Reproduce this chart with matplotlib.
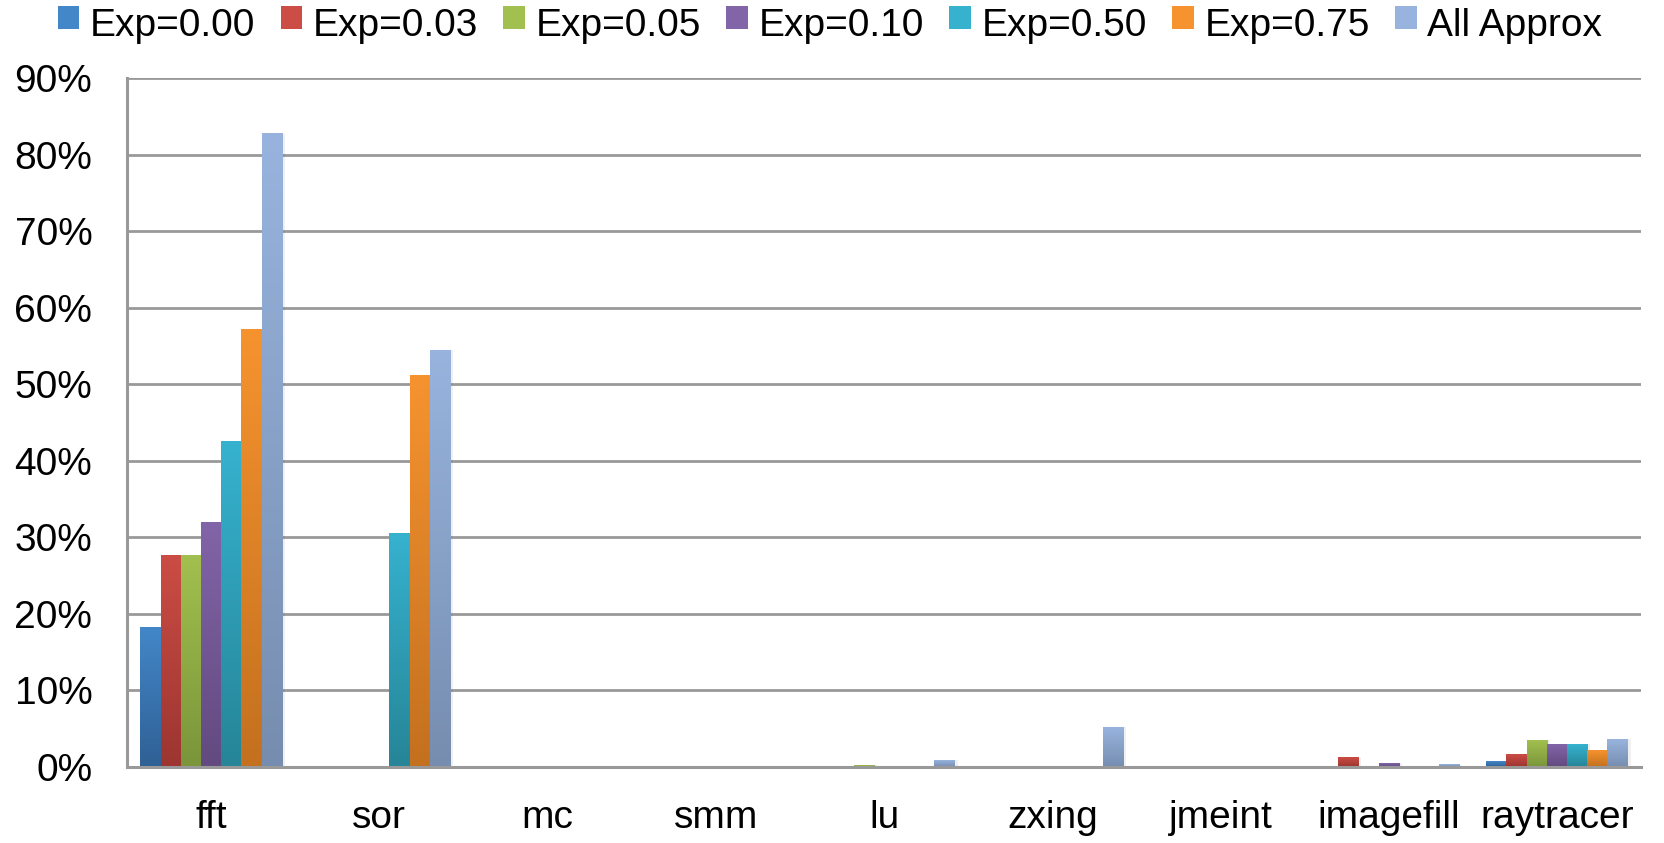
import numpy as np
import matplotlib
matplotlib.use("Agg")
import matplotlib.pyplot as plt
from matplotlib.colors import LinearSegmentedColormap
from matplotlib.patches import Patch, Rectangle
from matplotlib.legend_handler import HandlerPatch
from matplotlib.ticker import PercentFormatter

plt.rcParams['font.family'] = ['Liberation Sans', 'DejaVu Sans']

benchmarks = ["fft", "sor", "mc", "smm", "lu", "zxing", "jmeint", "imagefill", "raytracer"]
series = ["Exp=0.00", "Exp=0.03", "Exp=0.05", "Exp=0.10", "Exp=0.50", "Exp=0.75", "All Approx"]

# fraction of output error per benchmark (0..1)
exp_000 = [0.183, 0.001, 0.0005, 0.0005, 0.0005, 0.0, 0.0, 0.0, 0.007]
exp_003 = [0.277, 0.001, 0.0005, 0.0005, 0.0005, 0.0, 0.0, 0.012, 0.016]
exp_005 = [0.276, 0.001, 0.0005, 0.0005, 0.002, 0.0, 0.0, 0.0, 0.035]
exp_010 = [0.320, 0.001, 0.0005, 0.0005, 0.0005, 0.0, 0.0, 0.005, 0.030]
exp_050 = [0.426, 0.305, 0.0005, 0.0005, 0.0005, 0.0, 0.0005, 0.0, 0.030]
exp_075 = [0.572, 0.512, 0.0005, 0.0005, 0.0005, 0.0, 0.0005, 0.0, 0.022]
all_approx = [0.828, 0.545, 0.0005, 0.0005, 0.009, 0.052, 0.0005, 0.003, 0.036]

values = [exp_000, exp_003, exp_005, exp_010, exp_050, exp_075, all_approx]

# (top, bottom) colours of the vertical fill of each series
shades = [
    ("#4387c8", "#2f6095"),
    ("#cb4d45", "#9c3530"),
    ("#a2c04f", "#7a953a"),
    ("#8264a8", "#624a80"),
    ("#36b2cf", "#268597"),
    ("#f6932f", "#c3701f"),
    ("#98b4de", "#768daf"),
]

FS = 28

fig = plt.figure(figsize=(16.65, 8.43), dpi=100)
ax = fig.add_axes([0.0763, 0.0902, 0.9093, 0.8167])

n = len(series)
x = np.arange(len(benchmarks))
width = 0.12
offsets = (np.arange(n) - (n - 1) / 2) * width

grad = np.linspace(1, 0, 256).reshape(-1, 1)
for i, (vals, (top, bot)) in enumerate(zip(values, shades)):
    cmap = LinearSegmentedColormap.from_list(f"s{i}", [bot, top])
    bars = ax.bar(x + offsets[i], vals, width, color=top, linewidth=0, zorder=3)
    for b in bars:
        h = b.get_height()
        if h <= 0:
            continue
        x0 = b.get_x()
        # soft shadow to the right of each bar
        ax.add_patch(Rectangle((x0 + width * 0.15, 0), width, h, color="#000000",
                               alpha=0.06, linewidth=0, zorder=2.5))
        ax.imshow(grad, cmap=cmap, aspect="auto", interpolation="bilinear",
                  extent=(x0, x0 + width, 0, h), zorder=3.1, vmin=0, vmax=1)

ax.set_xlim(-0.5, len(benchmarks) - 0.5)
ax.set_ylim(0, 0.9)
ax.set_xticks(x)
ax.set_xticklabels(benchmarks)
ax.set_yticks(np.arange(0, 0.91, 0.1))
ax.yaxis.set_major_formatter(PercentFormatter(1.0, decimals=0))
ax.tick_params(axis="both", length=0, labelsize=FS)
ax.tick_params(axis="y", pad=25)
ax.tick_params(axis="x", pad=24)

ax.grid(axis="y", color="#999999", linewidth=2, zorder=1)
ax.set_axisbelow(True)
for side in ("top", "right"):
    ax.spines[side].set_visible(False)
for side in ("left", "bottom"):
    ax.spines[side].set_color("#999999")
    ax.spines[side].set_linewidth(2.2)
    ax.spines[side].set_zorder(4)


def raised_square(legend, orig_handle, xdescent, ydescent, width, height, fontsize):
    # legend keys sit a little above the text centre
    return Rectangle((-xdescent, -ydescent + height * 0.2), width, height)


handles = [Patch(facecolor=top, edgecolor="none") for top, _ in shades]
fig.legend(handles, series, loc="center", bbox_to_anchor=(0.4985, 0.969), ncol=n,
           frameon=False, fontsize=FS, handlelength=0.55, handleheight=0.55,
           handletextpad=0.28, columnspacing=0.65,
           handler_map={Patch: HandlerPatch(patch_func=raised_square)})

fig.savefig("out.png", dpi=100)
